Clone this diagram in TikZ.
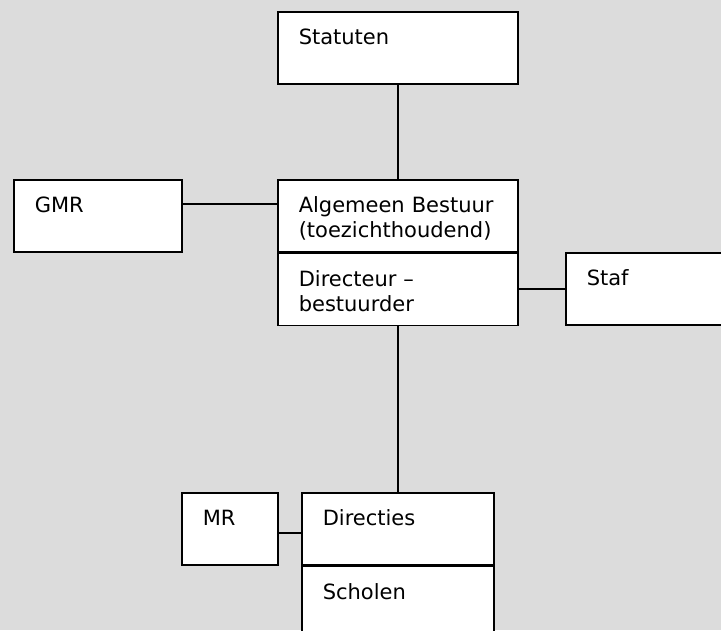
\documentclass[tikz,border=0pt]{standalone}
\usepackage{fontspec}
\setmainfont{DejaVu Sans}
\usetikzlibrary{positioning}
\definecolor{achtergrond}{RGB}{220,220,220}
\begin{document}
\begin{tikzpicture}[x=1pt,y=-1pt,
  blok/.style={draw,line width=1.5pt,fill=white,anchor=north west,align=left,
    inner xsep=21pt,inner ysep=0pt,text height=33pt,text depth=39pt,
    font=\fontsize{21}{25}\selectfont},
  lijn/.style={line width=1.5pt}]
\useasboundingbox (0,0) rectangle (721,630);
\clip (0,0) rectangle (721,630);
\fill[achtergrond] (0,0) rectangle (721,630);
% bovenste deel
\node[blok,text width=198pt] (statuten) at (277,11) {Statuten};
\node[blok,text width=198pt] (ab) at (277,179) {Algemeen Bestuur\\(toezichthoudend)};
\node[blok,text width=198pt,anchor=north] (dir) at (ab.south) {Directeur --\\bestuurder};
\node[blok,text width=126pt] (gmr) at (13,179) {GMR};
\node[blok,text width=198pt] (staf) at (565,252) {Staf};
% onderste deel
\node[blok,text width=54pt] (mr) at (181,492) {MR};
\node[blok,text width=150pt] (directies) at (301,492) {Directies};
\node[blok,text width=150pt,anchor=north] (scholen) at (directies.south) {Scholen};
\draw[lijn] (statuten.south) -- (ab.north);
\draw[lijn] ([yshift=12pt]gmr.east) -- ([yshift=12pt]gmr.east -| ab.west);
\draw[lijn] (staf.west) -- (staf.west -| dir.east);
\draw[lijn] (dir.south) -- (directies.north);
\draw[lijn] ([yshift=-4pt]mr.east) -- ([yshift=-4pt]mr.east -| directies.west);
\end{tikzpicture}
\end{document}
